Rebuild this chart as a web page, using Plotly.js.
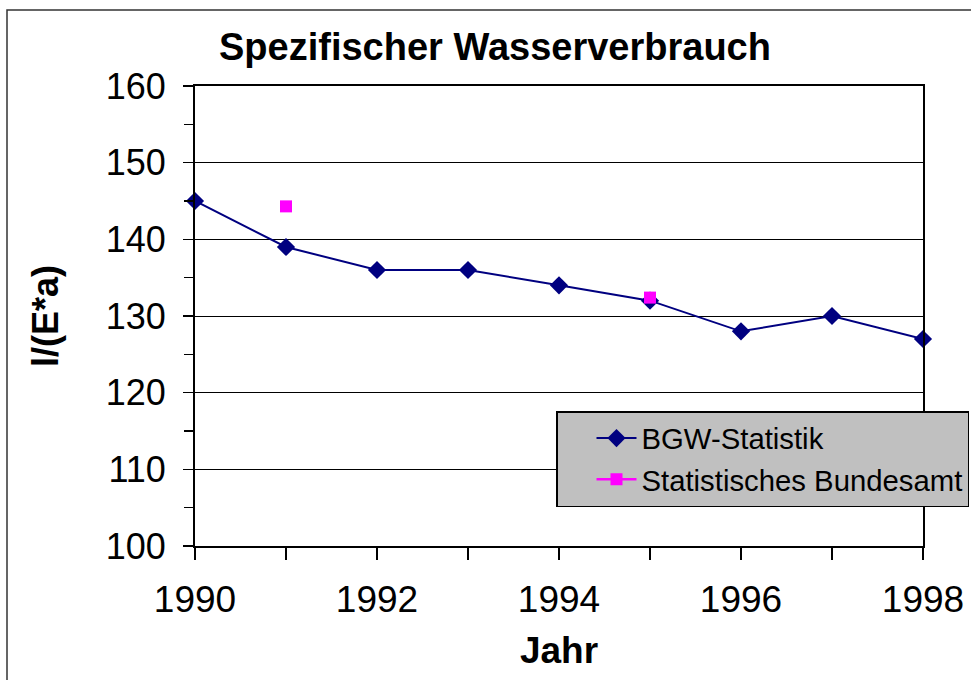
<!DOCTYPE html>
<html>
<head>
<meta charset="utf-8">
<script src="https://cdn.plot.ly/plotly-3.0.1.min.js"></script>
<style>html,body{margin:0;padding:0;background:#fff;}#chart{width:971px;height:680px;}</style>
</head>
<body>
<div id="chart"></div>
<script>
const years = [1990, 1991, 1992, 1993, 1994, 1995, 1996, 1997, 1998];
const bgwStatistik = [145, 139, 136, 136, 134, 132, 128, 130, 127];
const statBundesamt = [null, 144.3, null, null, null, 132.4, null, null, null];
const xTickVals = [1990, 1992, 1994, 1996, 1998];
const xTickText = ['1990', '1992', '1994', '1996', '1998'];
const yTickVals = [100, 110, 120, 130, 140, 150, 160];

const FONT = 'Liberation Sans, Arial, sans-serif';

const traces = [
  {
    x: years, y: bgwStatistik, name: 'BGW-Statistik', type: 'scatter', mode: 'lines+markers',
    line: {color: '#000080', width: 2},
    marker: {symbol: 'diamond', size: 14, color: '#000080'},
    cliponaxis: false
  },
  {
    x: years, y: statBundesamt, name: 'Statistisches Bundesamt', type: 'scatter', mode: 'lines+markers',
    connectgaps: false,
    line: {color: '#FF00FF', width: 2.5},
    marker: {symbol: 'square', size: 12, color: '#FF00FF'},
    cliponaxis: false
  }
];

const layout = {
  width: 971, height: 680,
  paper_bgcolor: '#ffffff', plot_bgcolor: '#ffffff',
  margin: {l: 195, r: 48, t: 86, b: 134, autoexpand: false},
  font: {family: FONT, color: '#000'},
  showlegend: true,
  title: {
    text: '<b>Spezifischer Wasserverbrauch</b>',
    font: {family: FONT, size: 38, color: '#000'},
    xref: 'container', yref: 'container',
    x: 495 / 971, xanchor: 'center',
    y: 1 - 47 / 680, yanchor: 'middle'
  },
  xaxis: {
    range: [1990, 1998],
    tickvals: xTickVals, ticktext: xTickText,
    ticks: 'outside', ticklen: 12, tickwidth: 1.5, tickcolor: '#000',
    minor: {dtick: 1, tick0: 1990, ticks: 'outside', ticklen: 12, tickwidth: 1.5, tickcolor: '#000', showgrid: false},
    showgrid: false, zeroline: false,
    showline: true, linecolor: '#000', linewidth: 2, mirror: true,
    tickfont: {family: FONT, size: 37, color: '#000'},
    ticklabelstandoff: 8,
    title: {text: '<b>Jahr</b>', font: {family: FONT, size: 37, color: '#000'}, standoff: 18}
  },
  yaxis: {
    range: [100, 160],
    tickvals: yTickVals,
    ticks: 'outside', ticklen: 10, tickwidth: 1.5, tickcolor: '#000',
    minor: {dtick: 5, tick0: 100, ticks: 'outside', ticklen: 9, tickwidth: 1.5, tickcolor: '#000', showgrid: false},
    showgrid: true, gridcolor: '#000', gridwidth: 1,
    zeroline: false,
    showline: true, linecolor: '#000', linewidth: 2, mirror: true,
    tickfont: {family: FONT, size: 36, color: '#000'},
    ticklabelstandoff: 10,
    title: {text: '<b>l/(E*a)</b>', font: {family: FONT, size: 36, color: '#000'}, standoff: 36}
  },
  legend: {
    x: (556 - 195) / 728, xanchor: 'left',
    y: (546 - 411) / 460, yanchor: 'top',
    bgcolor: '#C0C0C0', bordercolor: '#000', borderwidth: 1.5,
    font: {family: FONT, size: 29.3, color: '#000'},
    itemwidth: 40,
    indentation: 34
  },
  shapes: [
    {type: 'rect', xref: 'paper', yref: 'paper',
     x0: (7 - 195) / 728, x1: 1.2, y0: -0.4, y1: (546 - 10) / 460,
     line: {color: '#333', width: 1.5}, layer: 'below'}
  ]
};

Plotly.newPlot('chart', traces, layout, {staticPlot: true, displayModeBar: false});
</script>
</body>
</html>
